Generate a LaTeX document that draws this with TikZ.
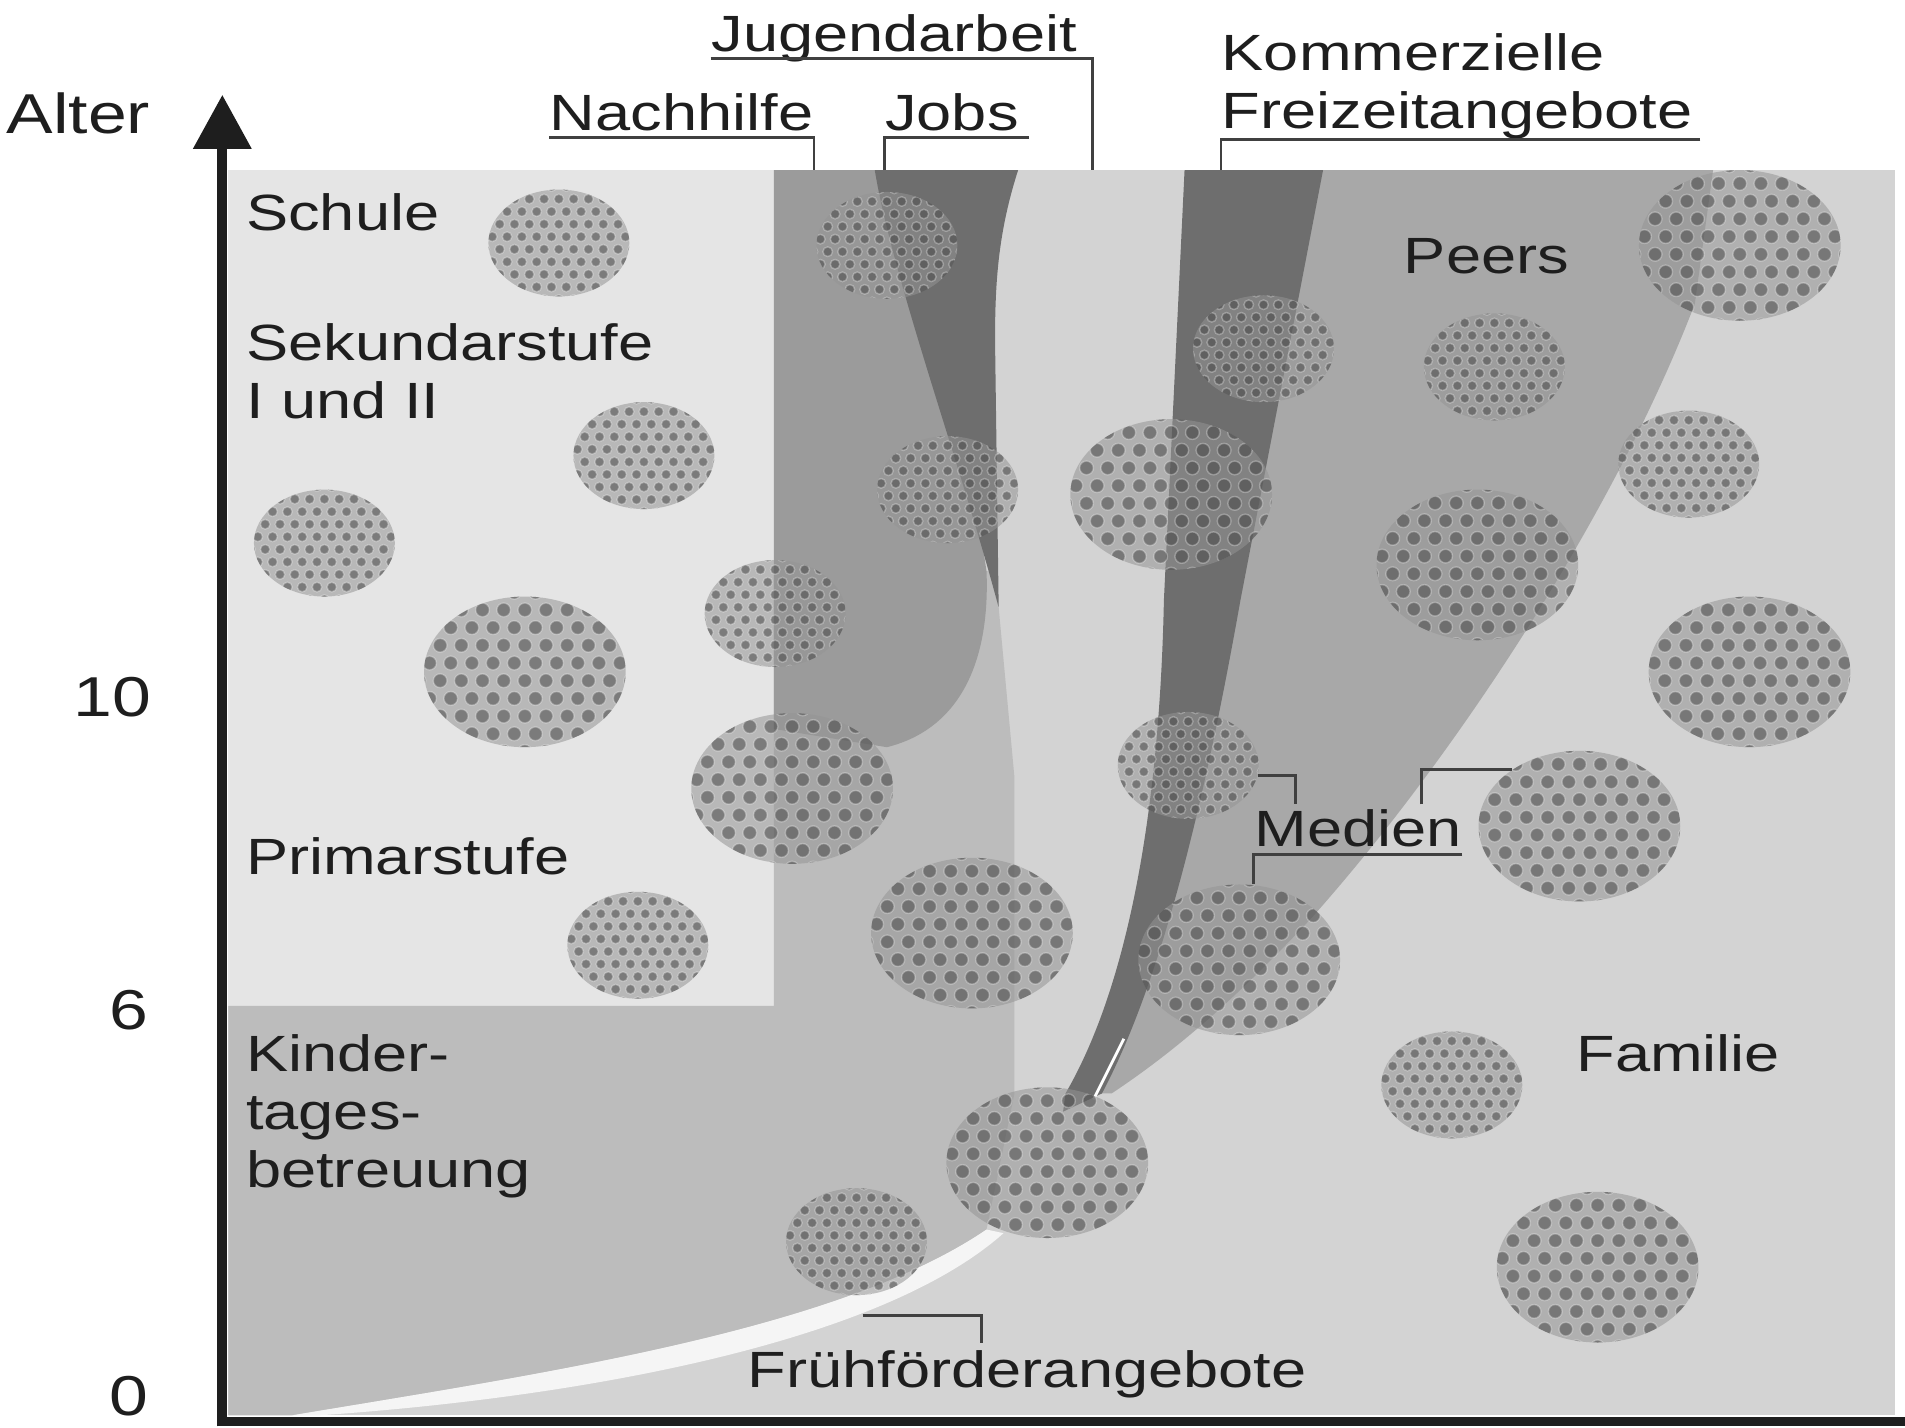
\documentclass[tikz,border=0pt]{standalone}
\usepackage{fontspec}
\setmainfont{Liberation Sans}[FakeStretch=1.24]
\usepackage{tikz}
\usetikzlibrary{calc, shapes.geometric, arrows.meta}

\definecolor{famgray}{HTML}{D3D3D3}
\definecolor{schulgray}{HTML}{E5E5E5}
\definecolor{kitagray}{HTML}{BCBCBC}
\definecolor{nachgray}{HTML}{9B9B9B}
\definecolor{bandgray}{HTML}{6E6E6E}
\definecolor{peergray}{HTML}{A8A8A8}
\definecolor{inkgray}{HTML}{1E1E1E}

\newcommand{\blobdots}[2]{%
  \foreach \i in {-6,...,6}{\foreach \j in {0,...,11}{%
    \fill[blobdot] ($(path picture bounding box.center)+({(\i+0.5*mod(\j,2))*#1*0.105},{(\j-5.5)*#2*0.1175})$) circle[radius=#1*0.034];}}}

\begin{document}
\begin{tikzpicture}[x=0.12149mm, y=-0.12149mm,
  lbl/.style={inner sep=0pt, anchor=base west, text depth=0.2em, font=\fontsize{14.5}{16.5}\selectfont, text=inkgray},
  mlbl/.style={inner sep=0pt, anchor=north west, align=left, font=\fontsize{14.5}{16.5}\selectfont, text=inkgray},
  num/.style={inner sep=0pt, anchor=base east, font=\fontsize{16}{18}\selectfont, text=inkgray},
  brk/.style={draw=inkgray!85, line width=0.8pt},
  axis/.style={draw=inkgray, line width=2.8pt},
  blob/.style 2 args={ellipse, inner sep=0pt, minimum width=#1*0.12149mm, minimum height=#2*0.12149mm, fill=black!42, fill opacity=0.55, path picture={\blobdots{#1}{#2}}},
  sblob/.style={blob={116}{88}},
  bblob/.style={blob={166}{124}},
  blobdot/.style={fill=black!75, draw=white, line width=0.4pt, fill opacity=0.5, draw opacity=0.3}]
\useasboundingbox (0,0) rectangle (1568,1175);
\coordinate (ptl) at (188,140);
\fill[famgray] (188,140) rectangle (1560,1165);
\fill[schulgray] (188,140) rectangle (637,828);
\fill[kitagray] (188,828) -- (637,828) -- (637,470) -- (815,470) -- (822,500) -- (835,640) -- (835,900) -- (812,1012) .. controls (690,1095) and (450,1130) .. (240,1165) -- (188,1165) -- cycle;
\fill[white!96!black] (240,1165) .. controls (450,1130) and (690,1095) .. (812,1012) -- (826,1015) .. controls (725,1105) and (480,1150) .. (262,1165) -- cycle;
\fill[nachgray] (637,140) -- (760,140) -- (812,470) .. controls (815,545) and (790,600) .. (730,615) -- (637,600) -- cycle;
\fill[bandgray] (720,140) -- (838,140) .. controls (822,190) and (819,230) .. (819,280) -- (822,500) .. controls (790,380) and (735,230) .. (720,140) -- cycle;
\fill[peergray] (1030,140) -- (1410,140) -- (1395,250) .. controls (1330,420) and (1200,620) .. (1080,755) .. controls (1010,830) and (960,870) .. (915,900) -- (895,900) -- (950,750) -- (990,494) -- cycle;
\fill[bandgray] (975,140) -- (1089,140) -- (1021,494) .. controls (995,640) and (960,800) .. (907,900) -- (875,915) -- (877,900) .. controls (935,800) and (955,640) .. (958,494) -- cycle;
\draw[white, line width=0.8pt] (925,855) -- (900,905);
\foreach \n/\x/\y/\st in {1/460/200/sblob, 2/530/375/sblob, 3/267/447/sblob, 4/432/553/bblob,
    5/638/505/sblob, 6/652/649/bblob, 7/525/778/sblob, 8/730/202/sblob, 9/780/403/sblob,
    10/800/768/bblob, 11/862/957/bblob, 12/705/1022/sblob, 13/964/407/bblob, 14/1040/287/sblob,
    15/978/630/sblob, 16/1020/790/bblob, 17/1230/302/sblob, 18/1432/202/bblob, 19/1390/382/sblob,
    20/1216/465/bblob, 21/1440/553/bblob, 22/1300/680/bblob, 23/1195/893/sblob, 24/1315/1043/bblob}
  \node[\st] (b\n) at (\x,\y) {};
\node[lbl, font=\fontsize{16}{18}\selectfont] (alter) at (5,110) {Alter};
\node[num] (n10) at (125,590) {10};
\node[num] (n6) at (123,847) {6};
\node[num] (n0) at (123,1165) {0};
\node[lbl] (schule) at (202,190) {Schule};
\node[mlbl] (sek) at (202,266) {Sekundarstufe\\I und II};
\node[lbl] (prim) at (202,720) {Primarstufe};
\node[mlbl] (kita) at (202,851) {Kinder-\\tages-\\betreuung};
\node[lbl] (peers) at (1155,225) {Peers};
\node[lbl] (familie) at (1297,882) {Familie};
\node[lbl] (jug) at (585,42) {Jugendarbeit};
\node[lbl] (nach) at (452,107) {Nachhilfe};
\node[lbl] (jobs) at (728,107) {Jobs};
\node[mlbl] (komm) at (1005,27) {Kommerzielle\\Freizeitangebote};
\node[lbl] (medien) at (1032,697) {Medien};
\node[lbl] (fruh) at (615,1142) {Frühförderangebote};
\draw[brk] (jug.south west) -- ($(jug.south east)+(12,0)$) -- ($(jug.south east |- ptl)+(12,0)$);
\draw[brk] (nach.south west) -- (nach.south east) -- (nach.south east |- ptl);
\draw[brk] ($(jobs.south east)+(8,0)$) -- (jobs.south west) -- (jobs.south west |- ptl);
\draw[brk] ($(komm.south east)+(6,0)$) -- (komm.south west) -- (komm.south west |- ptl);
\coordinate (medL) at (1066,662);
\coordinate (medR) at (1170,662);
\coordinate (fruhE) at (710,1083);
\draw[brk] (b15.-8) -| (medL);
\draw[brk] (medR) |- (b22.140);
\draw[brk] (medien.south east) -- (medien.south west) -- (medien.south west |- b16.north);
\draw[brk] (fruhE) -| ($(fruh.north west)+(193,-6)$);
\draw[axis] (179,1170) -- (1568,1170);
\draw[axis, -{Triangle[length=5.4mm, width=5.6mm]}] (183,1174) -- (183,78);
\end{tikzpicture}
\end{document}
